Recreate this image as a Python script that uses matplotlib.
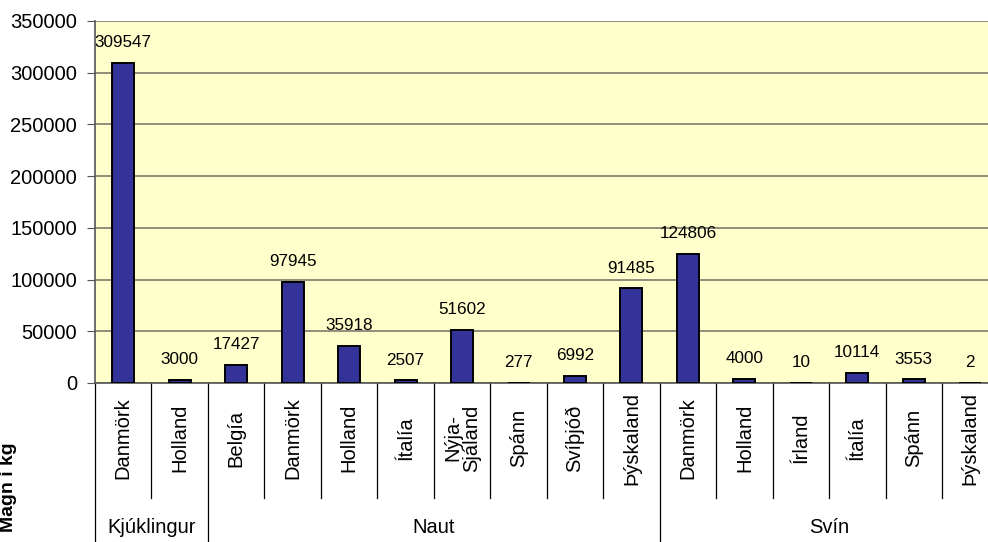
import matplotlib.pyplot as plt
import numpy as np

plt.rcParams['font.family'] = ['Liberation Sans', 'DejaVu Sans']

# gögn
grupur = ['Kjúklingur', 'Naut', 'Svín']
lond = [
    ['Danmörk', 'Holland'],
    ['Belgía', 'Danmörk', 'Holland', 'Ítalía', 'Nýja-\nSjáland', 'Spánn',
     'Svíþjóð', 'Þýskaland'],
    ['Danmörk', 'Holland', 'Írland', 'Ítalía', 'Spánn', 'Þýskaland'],
]
magn = [
    [309547, 3000],
    [17427, 97945, 35918, 2507, 51602, 277, 6992, 91485],
    [124806, 4000, 10, 10114, 3553, 2],
]

labels = [l for g in lond for l in g]
values = [v for g in magn for v in g]
x = np.arange(len(values))

fig = plt.figure(figsize=(9.88, 5.42), dpi=100)
ax = fig.add_axes([95 / 988, 159 / 542, 903.5 / 988, 362 / 542])
ax.set_facecolor('#FFFFCC')

bars = ax.bar(x, values, width=0.39, color='#333399', edgecolor='black',
              linewidth=1.4, zorder=3)
for b, v in zip(bars, values):
    ax.annotate(str(v), (b.get_x() + b.get_width() / 2, v), xytext=(0, 9),
                textcoords='offset points', ha='center', va='bottom',
                fontsize=12.3)

ax.set_xlim(-0.5, len(values) - 0.5)
ax.set_ylim(0, 350000)
ax.set_yticks(np.arange(0, 350001, 50000))
ax.yaxis.grid(True, color='#7a7a6e', linewidth=1.2, zorder=1)
ax.tick_params(axis='y', labelsize=14.5, length=6, pad=7, color='#555555')
ax.set_xticks([])
for s in ['top', 'right']:
    ax.spines[s].set_visible(False)
ax.spines['left'].set_color('#555555')
ax.spines['bottom'].set_color('#555555')
ax.spines['left'].set_linewidth(1.2)
ax.spines['bottom'].set_linewidth(1.2)

trans = ax.get_xaxis_transform()
# merkingar landa
for i, lab in enumerate(labels):
    ax.text(i, -0.152, lab, transform=trans, rotation=90, ha='center',
            va='center', fontsize=14.5, linespacing=0.95)

# skilalínur
y_lvl1 = -0.318
y_bot = -0.45
start = 0
edges = [-0.5]
for g in lond:
    start += len(g)
    edges.append(start - 0.5)
grp_edges = set(edges)
for k in range(len(values) + 1):
    xe = k - 0.5
    yb = y_bot if xe in grp_edges else y_lvl1
    ax.plot([xe, xe], [0, yb], transform=trans, color='black', lw=0.9,
            clip_on=False)

for g, a, b in zip(grupur, edges[:-1], edges[1:]):
    ax.text((a + b) / 2, -0.40, g, transform=trans, ha='center', va='center',
            fontsize=14.5)

fig.text(9 / 988, 55 / 542, 'Magn í kg', rotation=90, ha='center',
         va='center', fontsize=14, fontweight='bold')

fig.savefig('out.png', dpi=100)
